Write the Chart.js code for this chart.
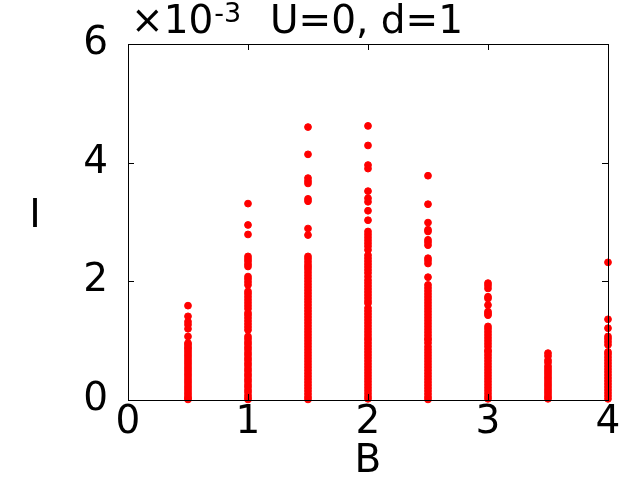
<!DOCTYPE html>
<html><head><meta charset="utf-8">
<script src="https://cdn.jsdelivr.net/npm/chart.js@4/dist/chart.umd.min.js"></script>
<style>html,body{margin:0;padding:0;background:#fff}#wrap{width:640px;height:480px}</style>
</head><body><div id="wrap"><canvas id="c" width="640" height="480"></canvas></div>
<script>
// ---- data (I in units of 10^-3) ----
const titleText = "U=0, d=1";
const multiplierBase = "\u00d710";
const multiplierExp = "-3";
const xLabel = "B";
const yLabel = "I";
const xTicks = [0, 1, 2, 3, 4];
const yTicks = [0, 2, 4, 6];
const bValues = [0.5, 1, 1.5, 2, 2.5, 3, 3.5, 4];

const iAtB05 = [1.59,1.41,1.32,1.27,1.20,1.07,0.96,0.93,0.89,0.86,0.82,0.78,0.74,0.70,0.66,0.62,0.58,0.54,0.50,0.46,0.42,0.38,0.34,0.30,0.26,0.22,0.18,0.14,0.10,0.06,0.03,0.01];
const iAtB10 = [3.31,2.95,2.79,2.42,2.38,2.34,2.29,2.25,2.08,2.04,1.99,1.94,1.83,1.79,1.74,1.69,1.64,1.59,1.54,1.47,1.43,1.38,1.33,1.28,1.23,1.18,1.07,1.03,0.98,0.94,0.89,0.85,0.80,0.76,0.71,0.67,0.62,0.58,0.53,0.49,0.44,0.40,0.35,0.31,0.26,0.22,0.17,0.13,0.08,0.04,0.01];
const iAtB15 = [4.60,4.14,3.74,3.69,3.65,3.39,3.35,2.89,2.78,2.42,2.38,2.33,2.28,2.24,2.20,2.15,2.10,2.05,2.00,1.95,1.90,1.85,1.80,1.75,1.70,1.65,1.60,1.55,1.50,1.45,1.40,1.35,1.30,1.25,1.20,1.15,1.10,1.05,1.00,0.95,0.90,0.85,0.80,0.75,0.70,0.65,0.60,0.55,0.50,0.45,0.40,0.35,0.30,0.25,0.20,0.15,0.10,0.05,0.01];
const iAtB20 = [4.62,4.29,3.96,3.90,3.52,3.40,3.34,3.19,3.03,2.84,2.79,2.74,2.69,2.64,2.59,2.53,2.44,2.39,2.34,2.29,2.24,2.19,2.14,2.08,2.02,1.97,1.92,1.87,1.82,1.77,1.72,1.67,1.63,1.55,1.50,1.45,1.40,1.35,1.30,1.25,1.20,1.15,1.10,1.05,1.01,0.96,0.91,0.86,0.81,0.76,0.71,0.66,0.61,0.56,0.51,0.46,0.41,0.36,0.31,0.26,0.21,0.16,0.11,0.06,0.02];
const iAtB25 = [3.78,3.30,2.99,2.87,2.84,2.70,2.66,2.61,2.39,2.35,2.30,2.07,1.94,1.89,1.84,1.79,1.74,1.69,1.64,1.59,1.54,1.49,1.44,1.39,1.34,1.29,1.24,1.19,1.14,1.09,1.04,1.01,0.96,0.90,0.85,0.80,0.75,0.70,0.65,0.60,0.55,0.50,0.45,0.40,0.35,0.30,0.25,0.20,0.15,0.10,0.05,0.01];
const iAtB30 = [1.97,1.93,1.88,1.74,1.71,1.60,1.49,1.46,1.43,1.24,1.20,1.15,1.10,1.05,1.00,0.95,0.90,0.84,0.81,0.76,0.71,0.66,0.61,0.56,0.51,0.46,0.41,0.36,0.31,0.26,0.21,0.16,0.11,0.06,0.02];
const iAtB35 = [0.79,0.74,0.67,0.63,0.57,0.53,0.49,0.45,0.41,0.37,0.33,0.29,0.25,0.21,0.17,0.13,0.09,0.05,0.02];
const iAtB40 = [2.32,1.36,1.21,1.07,1.03,0.98,0.93,0.81,0.77,0.72,0.67,0.62,0.57,0.52,0.47,0.42,0.37,0.32,0.27,0.22,0.17,0.12,0.07,0.02];

const columns = [iAtB05, iAtB10, iAtB15, iAtB20, iAtB25, iAtB30, iAtB35, iAtB40];

// ---- build points ----
const points = [];
columns.forEach((col, k) => col.forEach(v => points.push({x: bValues[k], y: v})));

const FONT = "'DejaVu Sans', 'Liberation Sans', sans-serif";
const FS = 39;

const framePlugin = {
  id: 'frame',
  afterDatasetsDraw(chart) {
    const {ctx, chartArea: a, scales: {x, y}} = chart;
    ctx.save();
    ctx.strokeStyle = '#000';
    ctx.lineWidth = 1;
    ctx.strokeRect(Math.round(a.left) + 0.5, Math.round(a.top) + 0.5,
                   Math.round(a.right - a.left), Math.round(a.bottom - a.top));
    const tl = 6;
    ctx.beginPath();
    xTicks.forEach(v => {
      const px = Math.round(x.getPixelForValue(v)) + 0.5;
      ctx.moveTo(px, a.bottom); ctx.lineTo(px, a.bottom - tl);
      ctx.moveTo(px, a.top); ctx.lineTo(px, a.top + tl);
    });
    yTicks.forEach(v => {
      const py = Math.round(y.getPixelForValue(v)) + 0.5;
      ctx.moveTo(a.left, py); ctx.lineTo(a.left + tl, py);
      ctx.moveTo(a.right, py); ctx.lineTo(a.right - tl, py);
    });
    ctx.stroke();
    ctx.restore();
  },
  afterDraw(chart) {
    const {ctx, chartArea: a} = chart;
    ctx.save();
    ctx.fillStyle = '#000';
    ctx.textBaseline = 'alphabetic';
    ctx.textAlign = 'left';
    ctx.font = FS + 'px ' + FONT;
    ctx.fillText(multiplierBase, 131, 33);
    const w = ctx.measureText(multiplierBase).width;
    ctx.font = '27px ' + FONT;
    ctx.fillText(multiplierExp, 131 + w + 1, 22);
    ctx.font = FS + 'px ' + FONT;
    ctx.fillText(titleText, 270, 33);
    ctx.textAlign = 'center';
    ctx.fillText(yLabel, 35, 227);
    ctx.fillText(xLabel, (a.left + a.right) / 2, 472);
    ctx.restore();
  }
};

new Chart(document.getElementById('c'), {
  type: 'scatter',
  data: {
    datasets: [{
      data: points,
      backgroundColor: '#ff0000',
      borderColor: '#ff0000',
      borderWidth: 1,
      pointRadius: 3.4,
      pointStyle: 'circle',
      clip: false
    }]
  },
  options: {
    responsive: false,
    animation: false,
    layout: {padding: {top: 44, right: 32, left: 0, bottom: 0}},
    plugins: {legend: {display: false}, tooltip: {enabled: false}, title: {display: false}},
    scales: {
      x: {
        type: 'linear', min: 0, max: 4,
        afterBuildTicks: s => { s.ticks = xTicks.map(v => ({value: v})); },
        afterFit: s => { s.height = 80; },
        grid: {display: false, drawTicks: false},
        border: {display: false},
        ticks: {color: '#000', font: {family: FONT, size: FS, lineHeight: 1}, padding: 3, maxRotation: 0, autoSkip: false}
      },
      y: {
        type: 'linear', min: 0, max: 6,
        afterBuildTicks: s => { s.ticks = yTicks.map(v => ({value: v})); },
        afterFit: s => { s.width = 128; },
        grid: {display: false, drawTicks: false},
        border: {display: false},
        ticks: {color: '#000', font: {family: FONT, size: FS, lineHeight: 1}, padding: 20}
      }
    }
  },
  plugins: [framePlugin]
});
</script>
</body></html>
